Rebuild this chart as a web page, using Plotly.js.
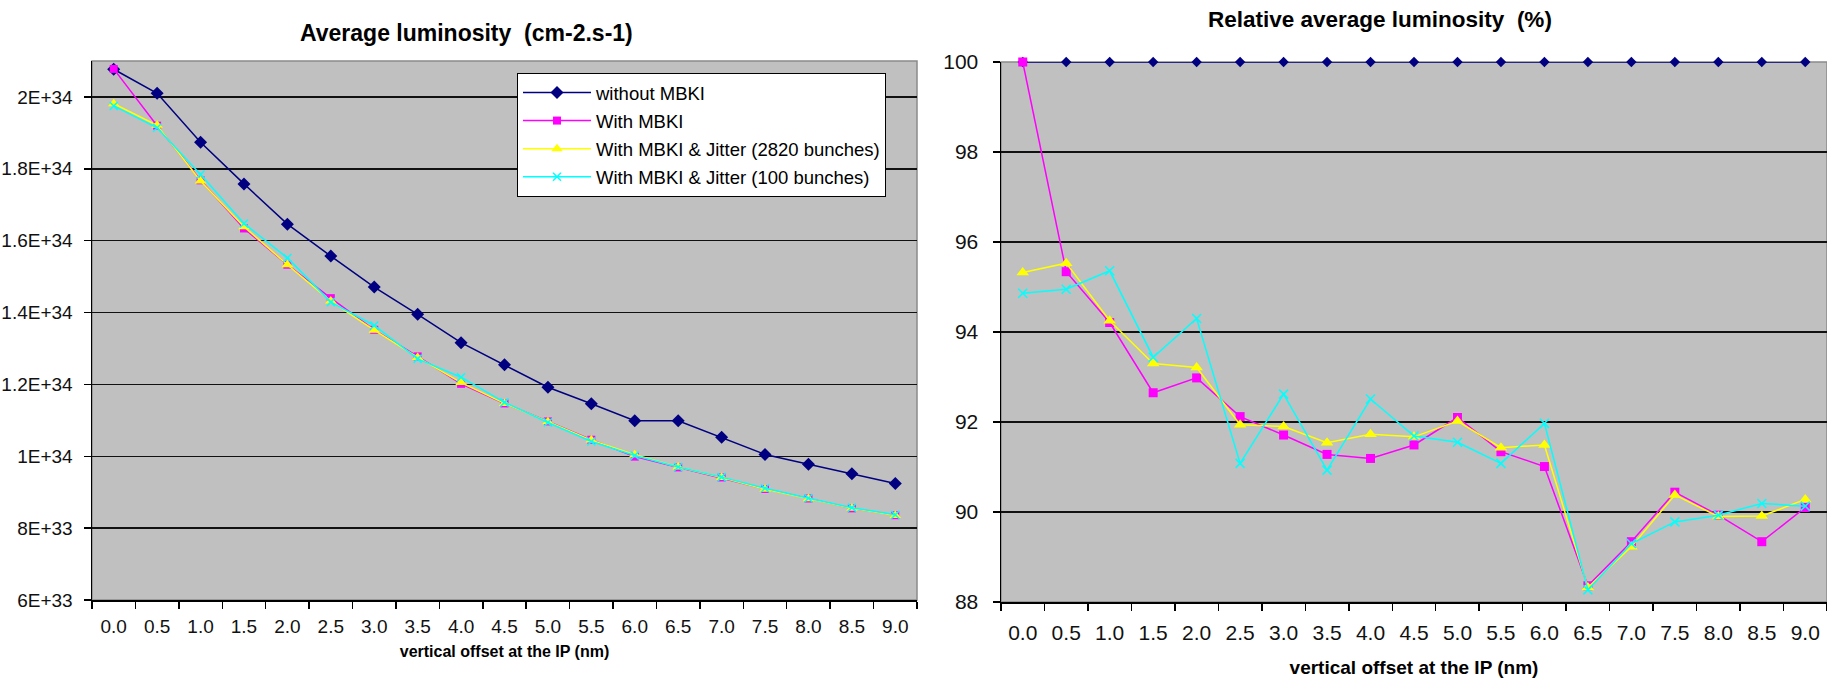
<!DOCTYPE html>
<html>
<head>
<meta charset="utf-8">
<script src="https://cdn.plot.ly/plotly-3.0.1.min.js"></script>
<style>
html,body{margin:0;padding:0;background:#fff;}
#chart{width:1827px;height:678px;}
</style>
</head>
<body>
<div id="chart"></div>
<script>
// ---- data ----
const offsets = ["0.0","0.5","1.0","1.5","2.0","2.5","3.0","3.5","4.0","4.5","5.0","5.5","6.0","6.5","7.0","7.5","8.0","8.5","9.0"];

const seriesNames = ["without MBKI","With MBKI","With MBKI & Jitter (2820 bunches)","With MBKI & Jitter (100 bunches)"];

// Average luminosity (cm-2.s-1)
const lumWithout = [2.077e34,2.010e34,1.874e34,1.758e34,1.646e34,1.557e34,1.471e34,1.395e34,1.316e34,1.2545e34,1.192e34,1.146e34,1.099e34,1.099e34,1.053e34,1.005e34,9.78e33,9.51e33,9.24e33];
const lumMBKI    = [2.078e34,1.920e34,1.768e34,1.634e34,1.533e34,1.440e34,1.352e34,1.278e34,1.2015e34,1.147e34,1.097e34,1.046e34,9.99e33,9.69e33,9.41e33,9.09e33,8.825e33,8.55e33,8.36e33];
const lumJit2820 = [1.981e34,1.921e34,1.766e34,1.639e34,1.533e34,1.432e34,1.351e34,1.275e34,1.205e34,1.147e34,1.096e34,1.045e34,1.004e34,9.70e33,9.41e33,9.08e33,8.82e33,8.55e33,8.35e33];
const lumJit100  = [1.975e34,1.914e34,1.784e34,1.648e34,1.552e34,1.429e34,1.364e34,1.271e34,1.220e34,1.150e34,1.094e34,1.041e34,1.002e34,9.70e33,9.42e33,9.11e33,8.83e33,8.57e33,8.37e33];

// Relative average luminosity (%)
const relWithout = [100,100,100,100,100,100,100,100,100,100,100,100,100,100,100,100,100,100,100];
const relMBKI    = [100,95.34,94.21,92.65,92.98,92.12,91.71,91.28,91.19,91.49,92.10,91.34,91.01,88.36,89.34,90.44,89.93,89.34,90.10];
const relJit2820 = [95.32,95.53,94.25,93.30,93.21,91.94,91.90,91.54,91.73,91.67,92.02,91.43,91.49,88.32,89.23,90.38,89.90,89.91,90.28];
const relJit100  = [94.86,94.95,95.36,93.44,94.30,91.08,92.62,90.93,92.51,91.69,91.55,91.08,91.97,88.27,89.30,89.78,89.93,90.19,90.13];

const leftTickVals = [6e33,8e33,1e34,1.2e34,1.4e34,1.6e34,1.8e34,2e34];
const leftTickText = ["6E+33","8E+33","1E+34","1.2E+34","1.4E+34","1.6E+34","1.8E+34","2E+34"];
const rightTickVals = [88,90,92,94,96,98,100];

const leftTitle = "Average luminosity\u00a0\u00a0(cm-2.s-1)";
const rightTitle = "Relative average luminosity\u00a0\u00a0(%)";
const xTitle = "vertical offset at the IP (nm)";

// ---- styles ----
const FONT = "Arial, 'Liberation Sans', sans-serif";
const colors = ["#000080","#FF00FF","#FFFF00","#00FFFF"];
const markersL = [
  {symbol:"diamond", size:10, color:colors[0]},
  {symbol:"square", size:8, color:colors[1]},
  {symbol:"triangle-up", size:10, color:colors[2]},
  {symbol:"x-thin-open", size:8, color:colors[3], line:{color:colors[3], width:1.5}}
];
const markersR = [
  {symbol:"diamond", size:8, color:colors[0]},
  {symbol:"square", size:9, color:colors[1]},
  {symbol:"triangle-up", size:11, color:colors[2]},
  {symbol:"x-thin-open", size:9, color:colors[3], line:{color:colors[3], width:1.5}}
];

const leftData = [lumWithout, lumMBKI, lumJit2820, lumJit100];
const rightData = [relWithout, relMBKI, relJit2820, relJit100];

const traces = [];
leftData.forEach((ys,i)=>{
  traces.push({
    type:"scatter", mode:"lines+markers", x:offsets, y:ys, name:seriesNames[i],
    xaxis:"x", yaxis:"y", legendgroup:"g"+i, cliponaxis:false,
    line:{color:colors[i], width:1.5}, marker:markersL[i]
  });
});
rightData.forEach((ys,i)=>{
  traces.push({
    type:"scatter", mode:"lines+markers", x:offsets, y:ys, name:seriesNames[i],
    xaxis:"x2", yaxis:"y2", showlegend:false, cliponaxis:false,
    line:{color:colors[i], width:1.5}, marker:markersR[i]
  });
});

const W = 1827, H = 678;
const px = v => v / W;
const py = v => (H - v) / H;

const axisCommon = {
  showline:true, linecolor:"#000", linewidth:1.5,
  ticks:"outside", ticklen:7, tickcolor:"#000", tickwidth:1.5,
  zeroline:false, fixedrange:true
};

const layout = {
  width:W, height:H,
  margin:{l:0,r:0,t:0,b:0},
  paper_bgcolor:"#ffffff",
  plot_bgcolor:"#C0C0C0",
  font:{family:FONT, color:"#111"},
  showlegend:true,
  legend:{
    x:px(517), y:py(73), xanchor:"left", yanchor:"top",
    bgcolor:"#ffffff", bordercolor:"#000", borderwidth:1,
    font:{family:FONT, size:18.5, color:"#000"},
    traceorder:"grouped", tracegroupgap:1, itemwidth:68
  },
  xaxis:Object.assign({}, axisCommon, {
    domain:[px(92), px(917)], anchor:"y", type:"category",
    range:[-0.5, offsets.length-0.5],
    tickson:"boundaries", showgrid:false,
    tickfont:{size:19, family:FONT, color:"#111"}, ticklabelstandoff:9,
    title:{text:xTitle, font:{size:16, family:FONT, color:"#000", weight:"bold"}, standoff:9}
  }),
  yaxis:Object.assign({}, axisCommon, {
    domain:[py(600), py(61)], anchor:"x",
    range:[6e33, 2.1e34], tickvals:leftTickVals, ticktext:leftTickText,
    showgrid:true, gridcolor:"#111", gridwidth:1.5,
    tickfont:{size:19, family:FONT, color:"#111"}, ticklabelstandoff:7
  }),
  xaxis2:Object.assign({}, axisCommon, {
    domain:[px(1001), 1], anchor:"y2", type:"category",
    range:[-0.5, offsets.length-0.5],
    tickson:"boundaries", showgrid:false,
    tickfont:{size:21, family:FONT, color:"#111"}, ticklabelstandoff:11,
    title:{text:xTitle, font:{size:19, family:FONT, color:"#000", weight:"bold"}, standoff:18}
  }),
  yaxis2:Object.assign({}, axisCommon, {
    domain:[py(602), py(62)], anchor:"x2",
    range:[88, 100], tickvals:rightTickVals,
    showgrid:true, gridcolor:"#111", gridwidth:1.5,
    tickfont:{size:21, family:FONT, color:"#111"}, ticklabelstandoff:10
  }),
  shapes:[
    {type:"rect", xref:"x domain", yref:"y domain", x0:0, x1:1, y0:0, y1:1,
     line:{color:"#8a8a8a", width:1.5}, fillcolor:"rgba(0,0,0,0)", layer:"below"},
    {type:"rect", xref:"x2 domain", yref:"y2 domain", x0:0, x1:1, y0:0, y1:1,
     line:{color:"#8a8a8a", width:1.5}, fillcolor:"rgba(0,0,0,0)", layer:"below"}
  ],
  annotations:[
    {text:leftTitle, xref:"paper", yref:"paper", x:px(467), y:py(33), xanchor:"center", yanchor:"middle",
     showarrow:false, font:{family:FONT, size:23, color:"#000", weight:"bold"}},
    {text:rightTitle, xref:"paper", yref:"paper", x:px(1380), y:py(20), xanchor:"center", yanchor:"middle",
     showarrow:false, font:{family:FONT, size:22.5, color:"#000", weight:"bold"}}
  ]
};

Plotly.newPlot("chart", traces, layout, {displayModeBar:false, staticPlot:true});
</script>
</body>
</html>
